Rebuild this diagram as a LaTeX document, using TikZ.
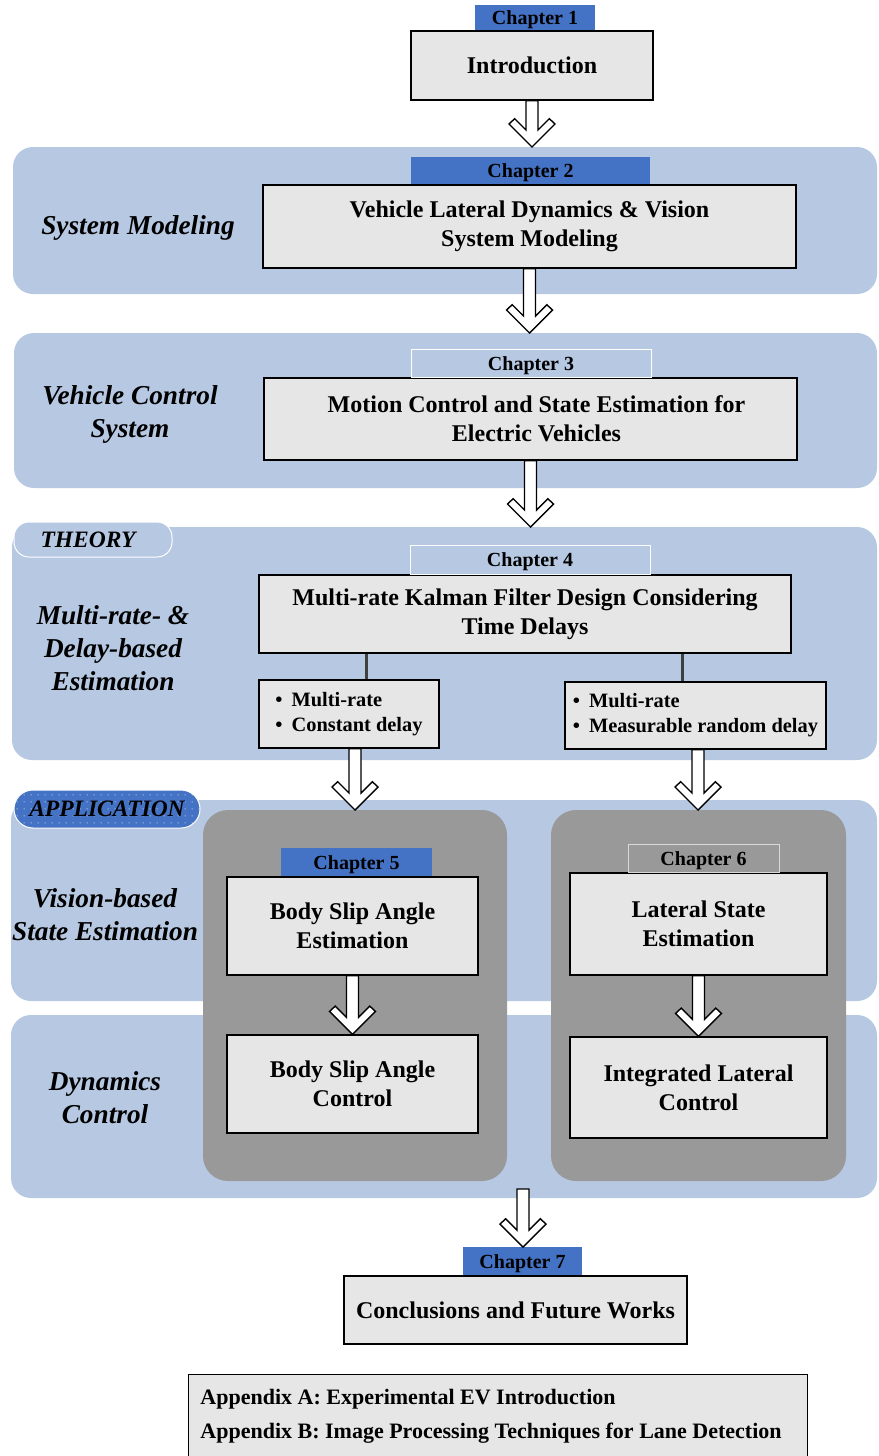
\documentclass[tikz,border=0pt]{standalone}
\usepackage{fontspec}
\setmainfont{Liberation Serif}
\usetikzlibrary{positioning,calc,patterns.meta}

\definecolor{bandblue}{HTML}{B7C8E2}
\definecolor{tabblue}{HTML}{4472C4}
\definecolor{boxgray}{HTML}{E6E6E6}
\definecolor{panelgray}{HTML}{999999}
\definecolor{stemgray}{HTML}{404040}

\tikzdeclarepattern{
  name=appdots,
  type=uncolored,
  bounding box={(0pt,0pt) and (7pt,7pt)},
  tile size={(7pt,7pt)},
  code={\pgfpathcircle{\pgfpoint{3.5pt}{3.5pt}}{0.75pt}\pgfusepath{fill}}
}

\tikzset{
  band/.style={fill=bandblue,rounded corners=20pt,inner sep=0pt,outer sep=0pt},
  panel/.style={fill=panelgray,rounded corners=25pt,inner sep=0pt,outer sep=0pt},
  box/.style={draw=black,fill=boxgray,line width=1.1pt,align=center,inner sep=0pt,
    font=\bfseries\fontsize{24pt}{29pt}\selectfont},
  bulletbox/.style={box,align=left,font=\bfseries\fontsize{20.4pt}{25pt}\selectfont},
  chaptab/.style={fill=tabblue,inner sep=0pt,minimum height=27pt,text height=16pt,text depth=2pt,
    font=\bfseries\fontsize{20pt}{22pt}\selectfont},
  chapframe/.style={chaptab,fill=none,draw=white,line width=0.9pt},
  sidelabel/.style={align=center,font=\bfseries\itshape\fontsize{27.3pt}{33pt}\selectfont},
  hollow/.style={draw=black,fill=white,line width=1.4pt,line join=miter},
  stem/.style={draw=stemgray,line width=3pt}
}

% block arrow with a chevron head, from the top point #1 down to the level of #2
\newcommand{\hollowarrow}[2]{%
  \draw[hollow] let \p1=(#1), \p2=(#2) in
    (\x1-6pt,\y1) -- (\x1+6pt,\y1) -- (\x1+6pt,\y2+17pt) -- (\x1+17.3pt,\y2+28.3pt)
    -- (\x1+23pt,\y2+23pt) -- (\x1,\y2) -- (\x1-23pt,\y2+23pt)
    -- (\x1-17.3pt,\y2+28.3pt) -- (\x1-6pt,\y2+17pt) -- cycle;}

\begin{document}
\begin{tikzpicture}[x=1pt,y=-1pt]
  \useasboundingbox (0,0) rectangle (878,1456);

  % bands
  \node[band,anchor=north west,minimum width=864pt,minimum height=147pt] (band1) at (13,147) {};
  \node[band,anchor=north west,minimum width=863pt,minimum height=155pt] (band2) at (14,333) {};
  \node[band,anchor=north west,minimum width=865pt,minimum height=233pt] (band3) at (12,527) {};
  \node[band,anchor=north west,minimum width=866pt,minimum height=201pt] (band4) at (11,800) {};
  \node[band,anchor=north west,minimum width=866pt,minimum height=183pt] (band5) at (11,1015) {};

  \node[fill=bandblue,draw=white,line width=1pt,rounded corners=15pt,minimum width=158pt,minimum height=35pt,
    inner sep=0pt,font=\bfseries\itshape\fontsize{23.5pt}{28pt}\selectfont] (theorytab) at (93,539.5) {\hspace{-10pt}THEORY};
  \node[draw=white,line width=1pt,rounded corners=19pt,minimum width=186pt,minimum height=38pt,inner sep=0pt,
    preaction={fill=tabblue},pattern=appdots,pattern color=white!65!tabblue,
    font=\bfseries\itshape\fontsize{23.5pt}{28pt}\selectfont] (apptab) at (107,809) {APPLICATION};

  % side labels
  \node[sidelabel] (lblmodel) at (138,228) {System Modeling};
  \node[sidelabel] (lblcontrol) at (130,414) {Vehicle Control\\System};
  \node[sidelabel] (lblest) at (113,648) {Multi-rate- \&\\Delay-based\\Estimation};
  \node[sidelabel] (lblvision) at (105,914.5) {Vision-based\\State Estimation};
  \node[sidelabel] (lbldyn) at (105,1098) {Dynamics\\Control};

  % gray panels
  \node[panel,anchor=north west,minimum width=304pt,minimum height=371pt] (panelL) at (203,810) {};
  \node[panel,anchor=north west,minimum width=295pt,minimum height=371pt] (panelR) at (551,810) {};

  % chapter boxes
  \node[box,minimum width=242pt,minimum height=69pt] (intro) at (532,65.5) {Introduction};
  \node[box,minimum width=533pt,minimum height=83pt] (model) at (529.5,226.5)
    {Vehicle Lateral Dynamics \& Vision\\System Modeling};
  \node[box,minimum width=533pt,minimum height=82pt] (motion) at (530.5,419)
    {\hspace{12pt}Motion Control and State Estimation for\\\hspace{12pt}Electric Vehicles};
  \node[box,minimum width=532pt,minimum height=78pt] (kalman) at (525,614)
    {Multi-rate Kalman Filter Design Considering\\Time Delays};
  \node[bulletbox,minimum width=180pt,minimum height=68pt] (rateL) at (349,714)
    {\textbullet\hspace{9pt}Multi-rate\\\textbullet\hspace{9pt}Constant delay};
  \node[bulletbox,minimum width=261pt,minimum height=67pt] (rateR) at (695.5,715.5)
    {\textbullet\hspace{9pt}Multi-rate\\\textbullet\hspace{9pt}Measurable random delay};
  \node[box,minimum width=251pt,minimum height=98pt] (slipest) at (352.5,926) {Body Slip Angle\\Estimation};
  \node[box,minimum width=251pt,minimum height=98pt] (slipctrl) at (352.5,1084) {Body Slip Angle\\Control};
  \node[box,minimum width=257pt,minimum height=102pt] (latest) at (698.5,924) {Lateral State\\Estimation};
  \node[box,minimum width=257pt,minimum height=101pt] (latctrl) at (698.5,1087.5) {Integrated Lateral\\Control};
  \node[box,minimum width=343pt,minimum height=68pt] (concl) at (515.5,1310) {Conclusions and Future Works};
  \node[box,anchor=north west,minimum width=619pt,minimum height=84pt,
    align=left,font=\bfseries\fontsize{22pt}{34pt}\selectfont] (appx) at (188,1374)
    {Appendix A: Experimental EV Introduction\hspace{180pt}\mbox{}\\Appendix B: Image Processing Techniques for Lane Detection};

  % chapter tabs
  \node[chaptab,minimum width=120pt,minimum height=25pt,above=0pt of intro,xshift=3pt] (ch1) {Chapter 1};
  \node[chaptab,minimum width=239pt,above=0pt of model,xshift=1pt] (ch2) {Chapter 2};
  \node[chapframe,minimum width=240pt,minimum height=28pt,above=0pt of motion,xshift=0.5pt] (ch3) {Chapter 3};
  \node[chapframe,minimum width=240pt,minimum height=29pt,above=0pt of kalman,xshift=5pt] (ch4) {Chapter 4};
  \node[chaptab,minimum width=151pt,minimum height=28pt,above=0pt of slipest,xshift=4pt] (ch5) {Chapter 5};
  \node[chapframe,draw=white!85!black,minimum width=151pt,minimum height=28pt,above=0pt of latest,xshift=5pt] (ch6) {Chapter 6};
  \node[chaptab,minimum width=119pt,minimum height=28pt,above=0pt of concl,xshift=7pt] (ch7) {Chapter 7};

  % stems to the two variants
  \coordinate (stemL) at (366,0);
  \coordinate (stemR) at (682,0);
  \draw[stem] (kalman.south -| stemL) -- (rateL.north -| stemL);
  \draw[stem] (kalman.south -| stemR) -- (rateR.north -| stemR);

  % arrows
  \coordinate (arrL) at (355,0);
  \coordinate (arrR) at (698,0);
  \coordinate (outstart) at (523,1189);
  \hollowarrow{intro.south}{band1.north}
  \hollowarrow{model.south}{band2.north}
  \hollowarrow{motion.south}{band3.north}
  \hollowarrow{rateL.south -| arrL}{panelL.north}
  \hollowarrow{rateR.south -| arrR}{panelR.north}
  \hollowarrow{slipest.south}{slipctrl.north}
  \hollowarrow{latest.south}{latctrl.north}
  \hollowarrow{outstart}{ch7.north}
\end{tikzpicture}
\end{document}
